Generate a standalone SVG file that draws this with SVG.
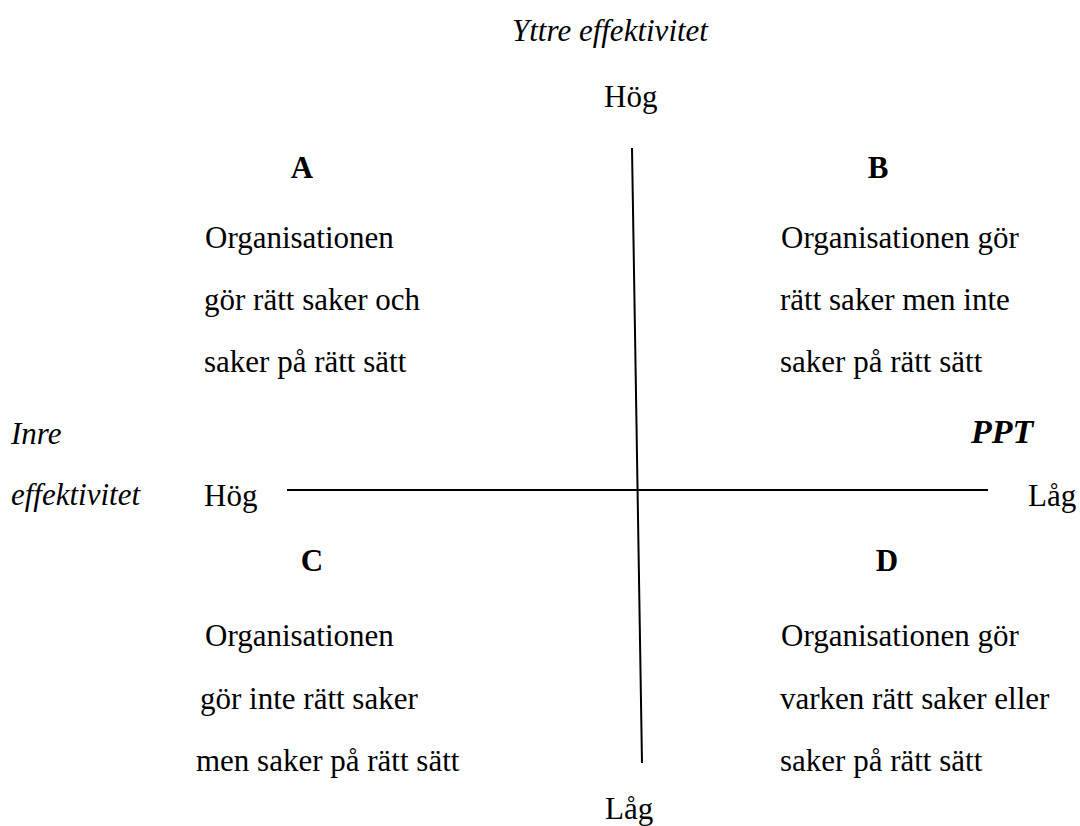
<svg xmlns="http://www.w3.org/2000/svg" width="1080" height="826" viewBox="0 0 1080 826">
  <style>
    text { font-family: "Liberation Serif", "Times New Roman", serif; font-size: 31px; fill: #000; }
    .it { font-style: italic; }
    .hd { font-weight: bold; text-anchor: middle; }
    .ppt { font-weight: bold; font-style: italic; font-size: 34px; }
    .axis { stroke: #000; stroke-width: 2; fill: none; }
  </style>
  <rect width="1080" height="826" fill="#fff"/>

  <!-- axis titles and end labels -->
  <g id="axis-labels">
    <text class="it" x="512" y="41">Yttre effektivitet</text>
    <text x="604" y="107">Hög</text>
    <text x="605" y="819">Låg</text>
    <text class="it" x="11" y="444">Inre</text>
    <text class="it" x="11" y="505">effektivitet</text>
    <text x="204" y="506">Hög</text>
    <text x="1028" y="506">Låg</text>
    <text class="ppt" x="971" y="443">PPT</text>
  </g>

  <!-- the two crossing axes -->
  <g id="connectors">
    <line class="axis" x1="632" y1="148" x2="642" y2="763"/>
    <line class="axis" x1="287" y1="490" x2="988" y2="490"/>
  </g>

  <g id="quadrant-a">
    <text class="hd" x="302" y="178">A</text>
    <text x="205" y="248">Organisationen</text>
    <text x="204" y="310">gör rätt saker och</text>
    <text x="204" y="372">saker på rätt sätt</text>
  </g>

  <g id="quadrant-b">
    <text class="hd" x="878" y="178">B</text>
    <text x="781" y="248">Organisationen gör</text>
    <text x="780" y="310">rätt saker men inte</text>
    <text x="780" y="372">saker på rätt sätt</text>
  </g>

  <g id="quadrant-c">
    <text class="hd" x="312" y="571">C</text>
    <text x="205" y="646">Organisationen</text>
    <text x="200" y="709">gör inte rätt saker</text>
    <text x="196" y="771">men saker på rätt sätt</text>
  </g>

  <g id="quadrant-d">
    <text class="hd" x="887" y="571">D</text>
    <text x="781" y="646">Organisationen gör</text>
    <text x="780" y="709">varken rätt saker eller</text>
    <text x="780" y="771">saker på rätt sätt</text>
  </g>
</svg>
